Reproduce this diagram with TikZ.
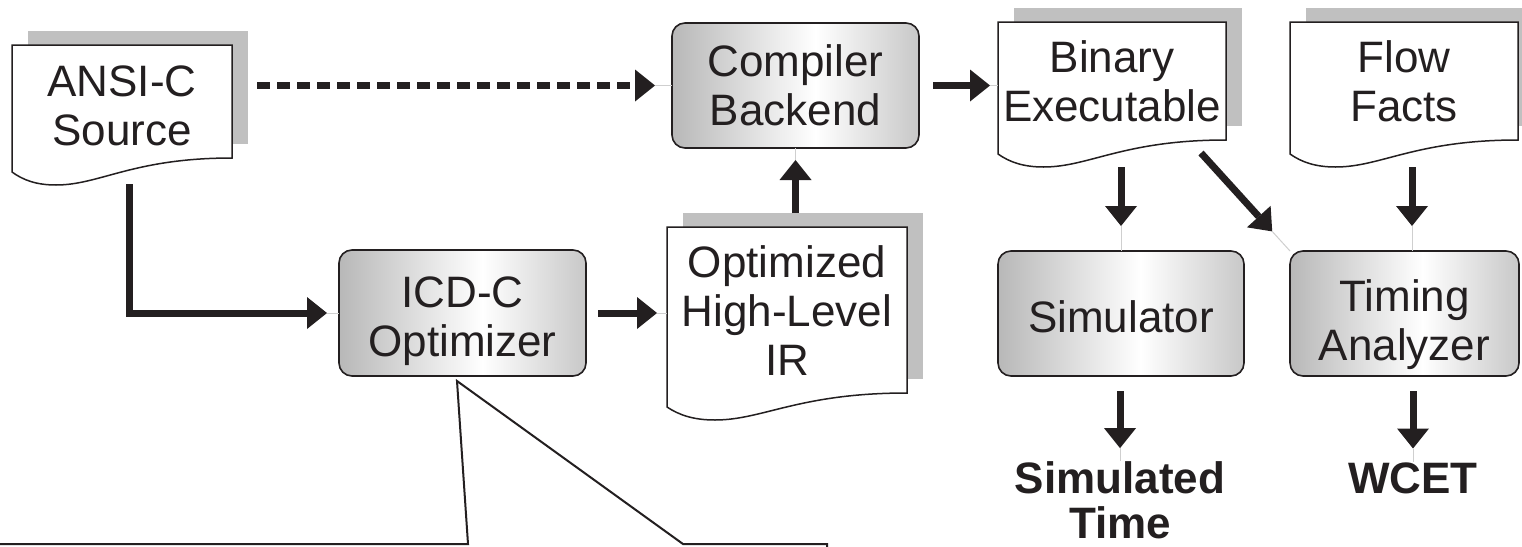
\documentclass[tikz,border=0pt]{standalone}
\usepackage{fontspec}
\setmainfont{Liberation Sans}
\usetikzlibrary{arrows.meta,calc}

\definecolor{ink}{HTML}{231F20}
\definecolor{shadowgray}{HTML}{C0C0C0}
\definecolor{stubgray}{HTML}{CFCFCF}
\definecolor{shadeL}{HTML}{B8B8B8}
\definecolor{shadeR}{HTML}{C8C8C8}

% grey-white-grey fill of the process boxes
\pgfdeclarehorizontalshading{boxshade}{100bp}{color(0bp)=(shadeL); color(25bp)=(shadeL); color(54bp)=(white); color(75bp)=(shadeR); color(100bp)=(shadeR)}

\pgfdeclarelayer{background}
\pgfsetlayers{background,main}

% centred multi-line label whose first baseline sits #1 above the node centre
\newcommand{\lbl}[2]{\raisebox{#1}[0pt][0pt]{\begin{tabular}[t]{@{}c@{}}#2\end{tabular}}}

% document symbol with offset shadow and wavy lower edge, drawn round node #1
\newcommand{\docshape}[1]{%
  \fill[shadowgray] ($(#1.north west)+(16,-14)$) rectangle ($(#1.south east)+(16,-14)$);
  \filldraw[docline] (#1.north west) -- (#1.north east) -- (#1.south east)
    .. controls ($(#1.south west)!0.55!(#1.south east)$) and ($(#1.south west)!0.40!(#1.south east)+(0,27)$)
    .. ($(#1.south west)!0.20!(#1.south east)+(0,27)$)
    .. controls ($(#1.south west)!0.11!(#1.south east)+(0,27)$) and ($(#1.south west)!0.05!(#1.south east)+(0,22)$)
    .. ($(#1.south west)+(0,14)$) -- cycle;}

\tikzset{
  docbody/.style={rectangle, inner sep=0pt, outer sep=0pt},
  docline/.style={draw=ink, fill=white, line width=1.5pt, line join=miter},
  proc/.style={rectangle, rounded corners=13pt, draw=ink, line width=1.6pt,
    shade, shading=boxshade, inner sep=0pt, outer sep=0pt},
  result/.style={inner sep=0pt, outer sep=0pt, anchor=base,
    font=\fontsize{44}{45}\selectfont\bfseries},
  flow/.style={draw=ink, line width=7pt, line cap=butt, line join=miter,
    -{Triangle[length=20pt,width=32pt,line width=0pt]}},
  dashflow/.style={flow, dash pattern=on 13pt off 7pt},
  stub/.style={draw=stubgray, line width=1pt},
  callout/.style={draw=ink, line width=2pt, line join=miter}
}

\begin{document}
\begin{tikzpicture}[x=1pt, y=-1pt, font=\fontsize{44}{49}\selectfont, text=ink]
\useasboundingbox (0,0) rectangle (1522,546);

% documents
\node[docbody, minimum width=220pt, minimum height=113pt] (src) at (122,101.5) {\lbl{5pt}{ANSI-C\\Source}};
\node[docbody, minimum width=240pt, minimum height=166pt] (ir) at (787,310) {\lbl{33pt}{Optimized\\High-Level\\IR}};
\node[docbody, minimum width=228pt, minimum height=118pt] (bin) at (1112,81) {\lbl{9pt}{Binary\\Executable}};
\node[docbody, minimum width=228pt, minimum height=118pt] (flow) at (1404,81) {\lbl{9pt}{Flow\\Facts}};

\begin{pgfonlayer}{background}
  \fill[white] (0,0) rectangle (1522,546);
  \docshape{src}
  \docshape{ir}
  \docshape{bin}
  \docshape{flow}
\end{pgfonlayer}

% processing steps
\node[proc, minimum width=247pt, minimum height=125pt] (cb) at (795.5,85.5) {\lbl{9.5pt}{Compiler\\Backend}};
\node[proc, minimum width=247pt, minimum height=126pt] (icd) at (462.5,313) {\lbl{6pt}{ICD-C\\Optimizer}};
\node[proc, minimum width=246pt, minimum height=125pt] (sim) at (1121,313.5) {\lbl{-18.5pt}{Simulator}};
\node[proc, minimum width=229pt, minimum height=125pt] (ta) at (1404.5,313.5) {\lbl{2pt}{Timing\\Analyzer}};

% results
\node[result] (simt) at (1120,493) {\begin{tabular}[t]{@{}c@{}}Simulated\\Time\end{tabular}};
\node[result] (wcet) at (1413,493) {\begin{tabular}[t]{@{}c@{}}WCET\end{tabular}};

% connectors
\draw[dashflow, shorten <=25pt] (src.east |- cb.west) -- ($(cb.west)+(-17,0)$) coordinate (tipA);
\draw[stub] (tipA) -- (cb.west);

\draw[flow, shorten <=14pt] (cb.east) -- ($(bin.west |- cb.east)+(-8,0)$) coordinate (tipB);
\draw[stub] (tipB) -- (bin.west |- cb.east);

\draw[flow, shorten <=14pt] (cb.south |- ir.north) -- ($(cb.south)+(0,12)$) coordinate (tipC);
\draw[stub] (tipC) -- (cb.south);

\draw[flow] ($(src.south west)!0.536!(src.south east)+(0,26)$) |- ($(icd.west)+(-12,0)$) coordinate (tipD);
\draw[stub] (tipD) -- (icd.west);

\draw[flow, shorten <=12pt] (icd.east) -- ($(ir.west |- icd.east)+(-10,0)$) coordinate (tipE);
\draw[stub] (tipE) -- (ir.west |- icd.east);

\draw[flow, shorten <=27pt] (sim.north |- bin.south) -- ($(sim.north)+(0,-25)$) coordinate (tipF);
\draw[stub] (tipF) -- (sim.north);

\coordinate (tailG) at ($(bin.south east)+(-25,13)$);
\draw[flow] (tailG) -- ($(tailG)!0.8!(ta.north west)$) coordinate (tipG);
\draw[stub] (tipG) -- (ta.north west);

\draw[flow, shorten <=27pt] ($(flow.south)+(8,0)$) -- ($(ta.north)+(7.5,-25)$) coordinate (tipH);
\draw[stub] (tipH) -- ($(ta.north)+(7.5,0)$);

\draw[flow, shorten <=15pt] (simt.north |- sim.south) -- ($(simt.north)+(0,-13)$) coordinate (tipI);
\draw[stub] (tipI) -- (simt.north);

\draw[flow, shorten <=15pt] (wcet.north |- ta.south) -- ($(wcet.north)+(0,-13)$) coordinate (tipJ);
\draw[stub] (tipJ) -- (wcet.north);

% zoom callout below the optimizer
\draw[callout] (0,544) -- (468,544) -- ($(icd.south)+(-5.5,5)$) -- (683,544) -- (827,544) -- (827,550);
\end{tikzpicture}
\end{document}
